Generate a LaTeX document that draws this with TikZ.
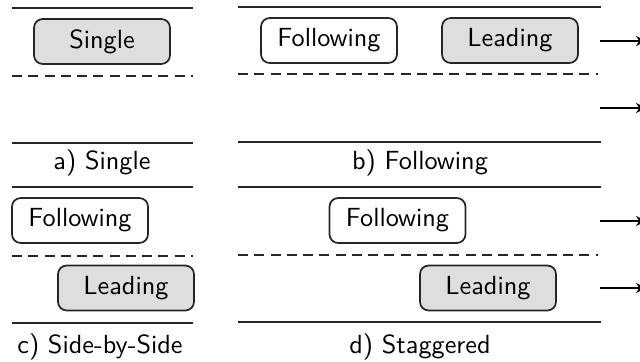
\documentclass[tikz,border=0pt]{standalone}
\usetikzlibrary{arrows.meta}
\begin{document}
\begin{tikzpicture}[x=0.4pt,y=-0.4pt,
  lane/.style={line width=0.8pt, draw=black!85},
  lanedash/.style={line width=0.75pt, draw=black!85, dash pattern=on 4pt off 2.5pt},
  car/.style={draw=black!85, line width=0.7pt, rounded corners=3.5pt,
    minimum width=136*0.4pt, minimum height=45*0.4pt, inner sep=0pt,
    font=\sffamily\fontsize{10.5}{12}\selectfont},
  lead/.style={car, fill=black!13},
  follow/.style={car, fill=white},
  caption/.style={font=\sffamily\fontsize{10.5}{12}\selectfont, inner sep=0pt},
  dir/.style={line width=0.85pt, -{Stealth[length=4pt,width=4pt]}}]
\useasboundingbox (0,0) rectangle (640,361);

% a) single vehicle
\draw[lane] (12,8) -- (193,8);
\draw[lanedash] (12,76) -- (193,76);
\draw[lane] (12,143) -- (193,143);
\node[lead] (sa) at (102,41.5) {Single};
\node[caption] (ca) at (102,163) {a) Single};

% b) following
\draw[lane] (238,7) -- (601,7);
\draw[lanedash] (238,74) -- (598,74);
\draw[lane] (238,142) -- (601,142);
\node[follow] (fb) at (329,40.5) {Following};
\node[lead] (lb) at (510,40.5) {Leading};
\node[caption] (cb) at (420,163) {b) Following};
\coordinate (b1s) at (600,41);  \coordinate (b1e) at (646,41);
\coordinate (b2s) at (600,108); \coordinate (b2e) at (646,108);
\draw[dir] (b1s) -- (b1e);
\draw[dir] (b2s) -- (b2e);

% c) side-by-side
\draw[lane] (12,187) -- (193,187);
\draw[lanedash] (12,256) -- (193,256);
\draw[lane] (12,323) -- (193,323);
\node[follow] (fc) at (80,220.5) {Following};
\node[lead] (lc) at (126,288) {Leading};
\node[caption] (cc) at (100,347) {c) Side-by-Side};

% d) staggered
\draw[lane] (238,187) -- (601,187);
\draw[lanedash] (238,255) -- (598,255);
\draw[lane] (238,322) -- (601,322);
\node[follow] (fd) at (397.5,220.5) {Following};
\node[lead] (ld) at (488,288) {Leading};
\node[caption] (cd) at (420,347) {d) Staggered};
\coordinate (d1s) at (600,221); \coordinate (d1e) at (646,221);
\coordinate (d2s) at (600,288); \coordinate (d2e) at (646,288);
\draw[dir] (d1s) -- (d1e);
\draw[dir] (d2s) -- (d2e);
\end{tikzpicture}
\end{document}
